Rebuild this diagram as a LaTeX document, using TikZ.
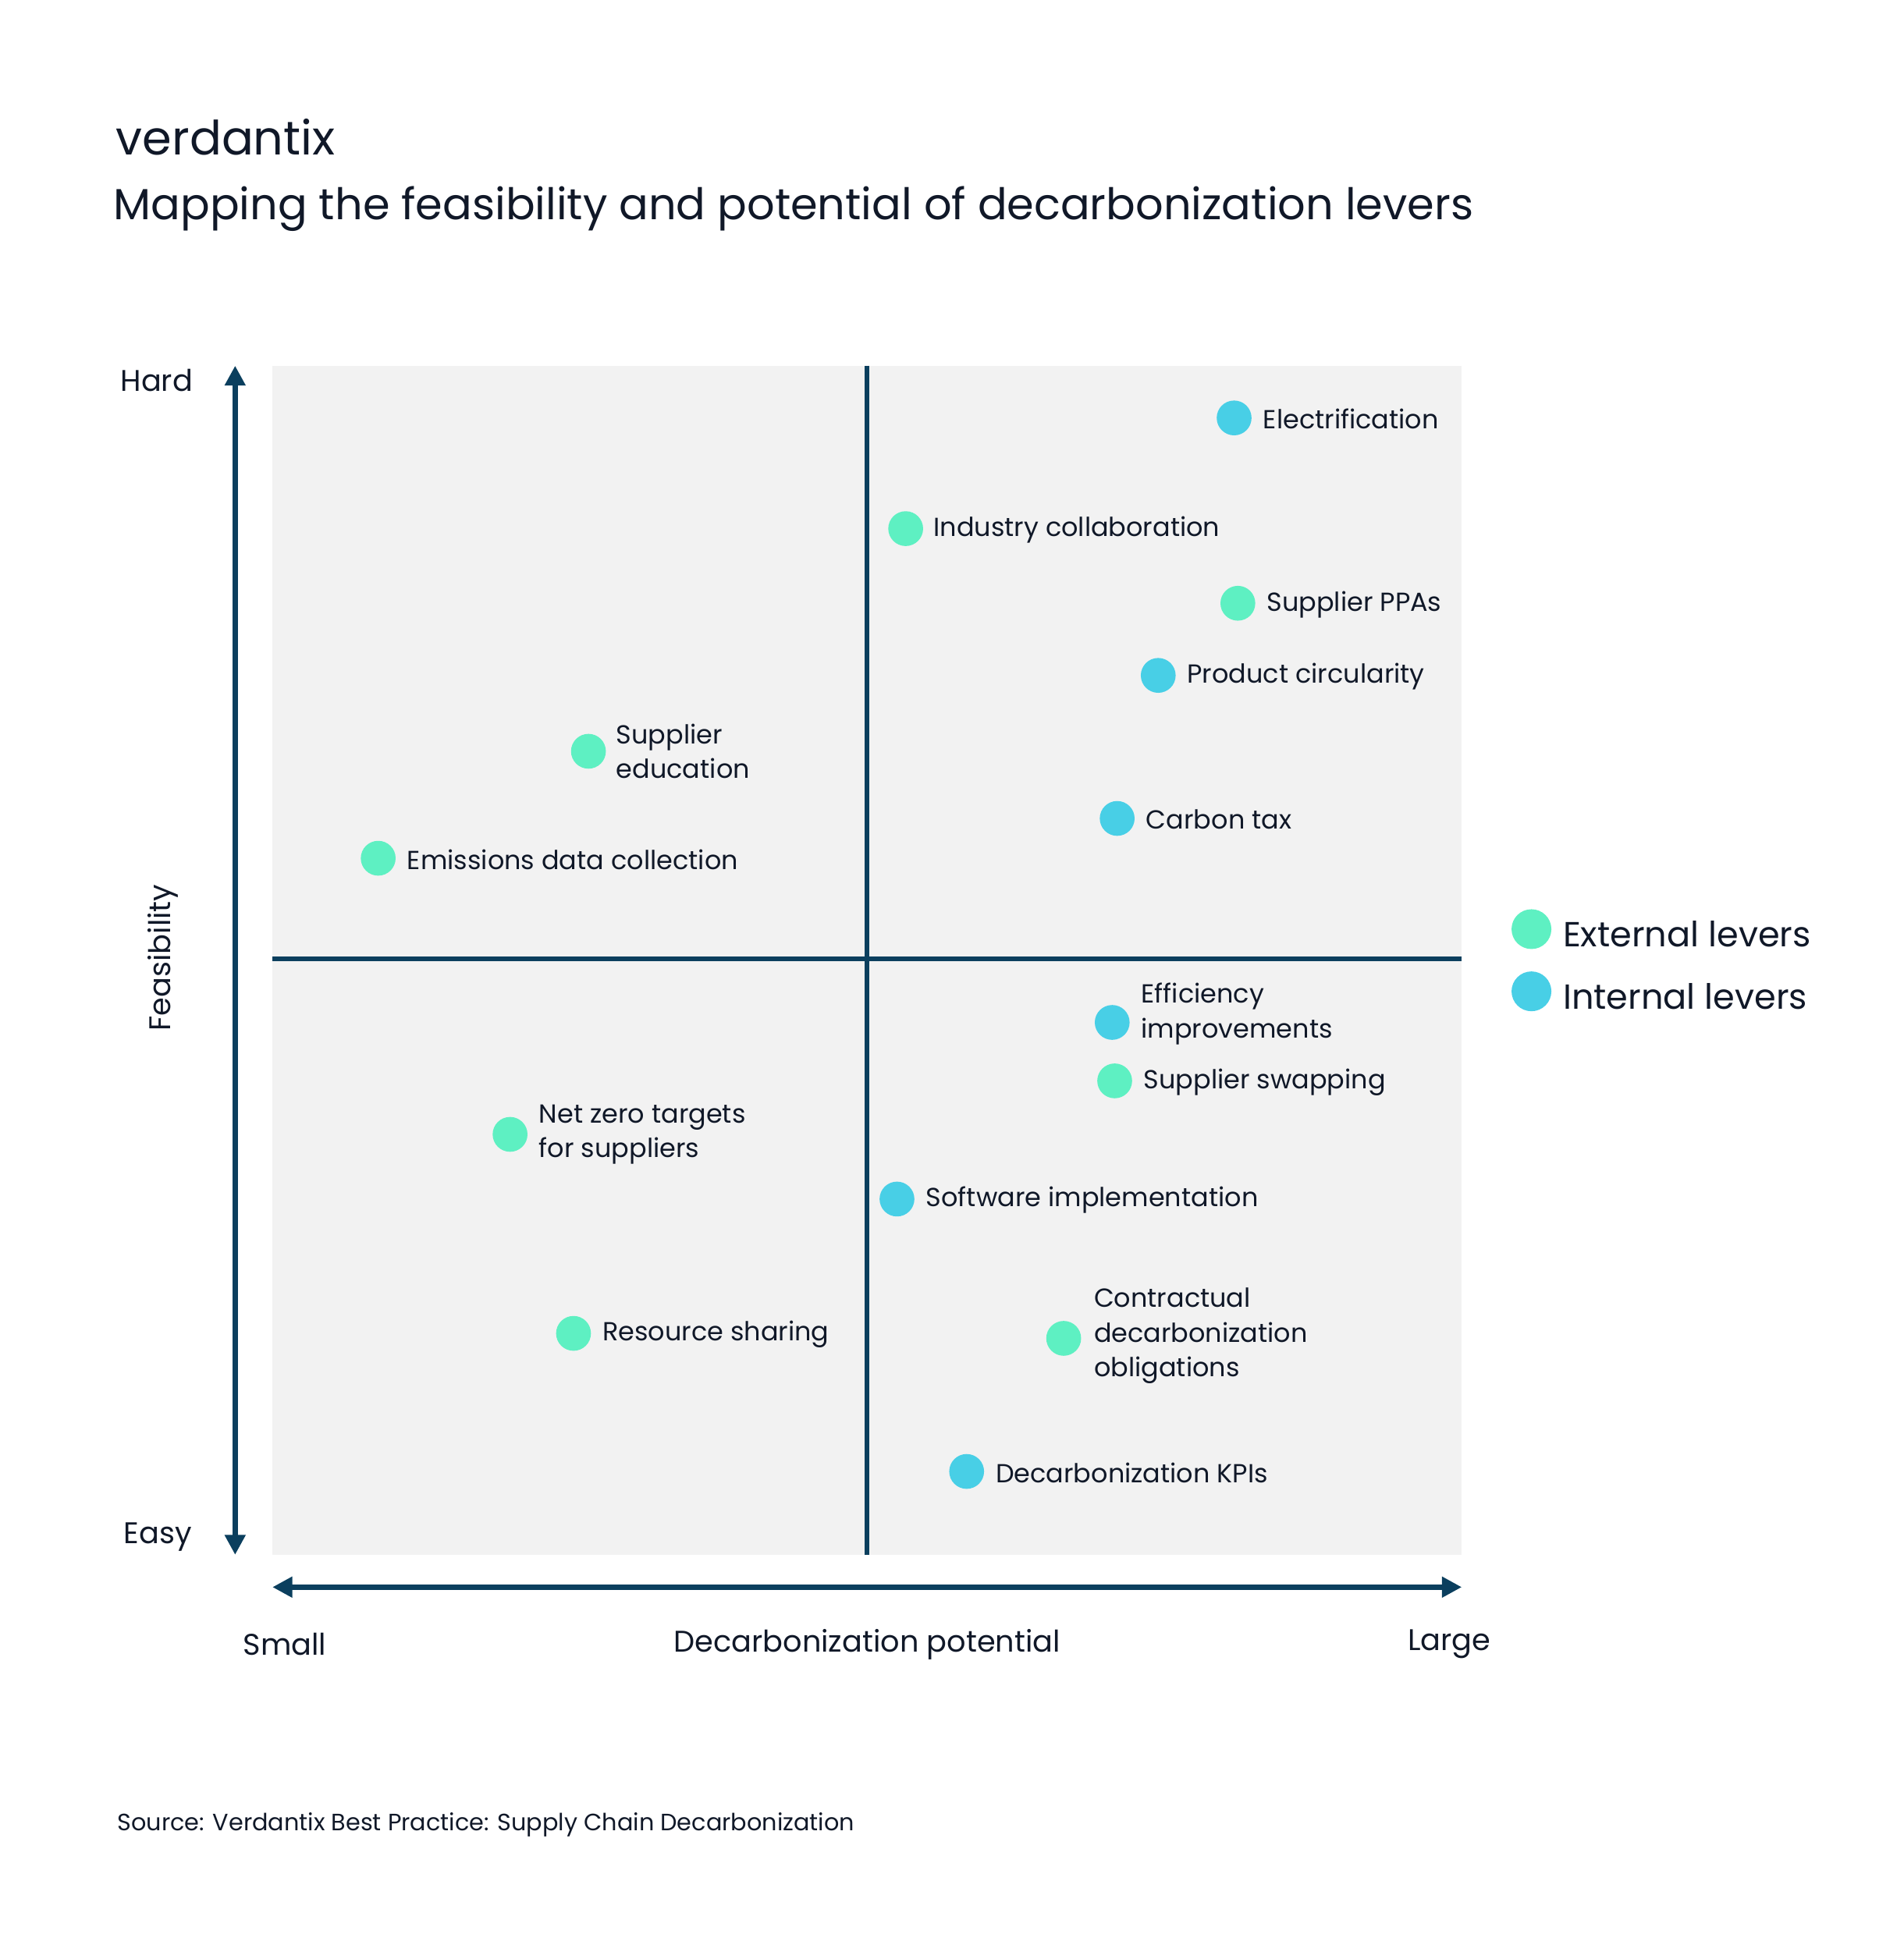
\documentclass[tikz,border=0pt]{standalone}
\usepackage{fontspec}
\setmainfont{Poppins}
\usetikzlibrary{arrows.meta}
\definecolor{navy}{HTML}{0B3F5E}
\definecolor{ink}{HTML}{101828}
\definecolor{ext}{HTML}{5EF0C2}
\definecolor{int}{HTML}{48CFE6}
\definecolor{bg}{HTML}{F2F2F2}
\tikzset{
 lbl/.style={anchor=west,font=\fontsize{10.5}{14}\selectfont,text=ink,align=left,inner sep=0pt},
 ax/.style={font=\fontsize{12}{14}\selectfont,text=ink,inner sep=0pt},
 edot/.style={circle,fill=ext,minimum size=14pt,inner sep=0pt},
 idot/.style={circle,fill=int,minimum size=14pt,inner sep=0pt},
}
\begin{document}
\begin{tikzpicture}[x=0.5pt,y=-0.5pt]
\useasboundingbox (0,0) rectangle (1530,1575);
\fill[bg] (219,294) rectangle (1175,1250);
\draw[navy,line width=2pt] (697,294) -- (697,1250);
\draw[navy,line width=2pt] (219,771) -- (1175,771);
\coordinate (vt) at (189,294); \coordinate (vb) at (189,1250);
\coordinate (hl) at (219,1276); \coordinate (hr) at (1175,1276);
\draw[navy,line width=2pt,{Triangle[length=8pt,width=8pt]}-{Triangle[length=8pt,width=8pt]}] (vb) -- (vt);
\draw[navy,line width=2pt,{Triangle[length=8pt,width=8pt]}-{Triangle[length=8pt,width=8pt]}] (hl) -- (hr);
\node[anchor=west,text=ink,inner sep=0pt,font=\fontsize{19}{22}\selectfont] (logo) at (93,110) {verdantix};
\node[anchor=west,text=ink,inner sep=0pt,font=\fontsize{17.5}{22}\selectfont] (title) at (91,168) {Mapping the feasibility and potential of decarbonization levers};
\node[ax] (hard) at (126,306) {Hard};
\node[ax] (easy) at (127,1236) {Easy};
\node[ax,rotate=90] (feas) at (131,770) {Feasibility};
\node[ax] (small) at (229,1322) {Small};
\node[ax] (dp) at (697,1322) {Decarbonization potential};
\node[ax] (large) at (1165,1322) {Large};
\node[idot] (d1) at (992,336) {}; \node[lbl] at (1015,337) {Electrification};
\node[edot] (d2) at (728,425) {}; \node[lbl] at (750,426) {Industry collaboration};
\node[edot] (d3) at (995,485) {}; \node[lbl] at (1018,486) {Supplier PPAs};
\node[idot] (d4) at (931,543) {}; \node[lbl] at (954,544) {Product circularity};
\node[edot] (d5) at (473,604) {}; \node[lbl] at (495,604) {Supplier\\education};
\node[edot] (d6) at (304,690) {}; \node[lbl] at (327,691) {Emissions data collection};
\node[idot] (d7) at (898,658) {}; \node[lbl] at (921,659) {Carbon tax};
\node[idot] (d8) at (894,822) {}; \node[lbl] at (917,815) {Efficiency\\improvements};
\node[edot] (d9) at (896,869) {}; \node[lbl] at (919,870) {Supplier swapping};
\node[edot] (d10) at (410,912) {}; \node[lbl] at (433,912) {Net zero targets\\for suppliers};
\node[idot] (d11) at (721,964) {}; \node[lbl] at (744,965) {Software implementation};
\node[edot] (d12) at (855,1076) {}; \node[lbl] at (879,1074) {Contractual\\decarbonization\\obligations};
\node[edot] (d13) at (461,1072) {}; \node[lbl] at (484,1073) {Resource sharing};
\node[idot] (d14) at (777,1183) {}; \node[lbl] at (800,1184) {Decarbonization KPIs};
\node[edot,minimum size=16pt] (le) at (1231,747) {}; \node[lbl,font=\fontsize{14}{16}\selectfont] at (1256,751) {External levers};
\node[idot,minimum size=16pt] (li) at (1231,797) {}; \node[lbl,font=\fontsize{14}{16}\selectfont] at (1256,801) {Internal levers};
\node[lbl,font=\fontsize{9.5}{12}\selectfont] (src) at (94,1467) {Source: Verdantix Best Practice: Supply Chain Decarbonization};
\end{tikzpicture}
\end{document}
